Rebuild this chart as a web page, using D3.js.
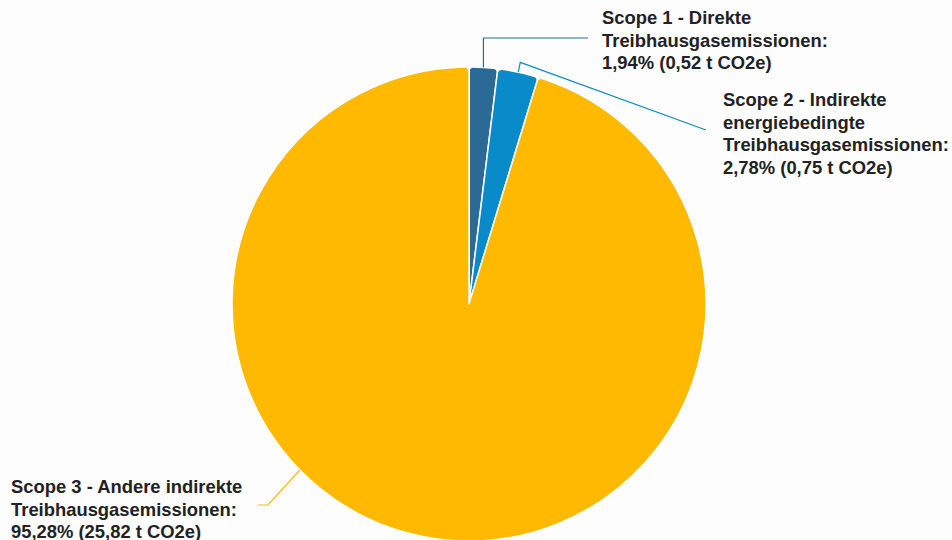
<!DOCTYPE html>
<html>
<head>
<meta charset="utf-8">
<script src="https://cdn.jsdelivr.net/npm/d3@7"></script>
<style>
  html, body { margin: 0; padding: 0; background: #fdfdfd; }
  svg { display: block; }
  text { font-family: "Liberation Sans", Arial, sans-serif; font-weight: bold; font-size: 18.4px; fill: #222; }
</style>
</head>
<body>
<div id="chart"></div>
<script>
var categories = ['Scope 1', 'Scope 2', 'Scope 3'];
var shares = [1.94, 2.78, 95.28];
var tonnes = [0.52, 0.75, 25.82];
var labelLines = [
  ['Scope 1 - Direkte', 'Treibhausgasemissionen:', '1,94% (0,52 t CO2e)'],
  ['Scope 2 - Indirekte', 'energiebedingte', 'Treibhausgasemissionen:', '2,78% (0,75 t CO2e)'],
  ['Scope 3 - Andere indirekte', 'Treibhausgasemissionen:', '95,28% (25,82 t CO2e)']
];
var colors = ['#2b6a94', '#0a8bc9', '#ffb900'];

var w = 952, h = 540;
var cx = 469, cy = 304, r = 237;

var svg = d3.select('#chart').append('svg')
  .attr('width', w)
  .attr('height', h);

var g = svg.append('g').attr('transform', 'translate(' + cx + ',' + cy + ')');

var pie = d3.pie().sort(null).value(function(d) { return d; });
var arcs = pie(shares);

var arc = d3.arc()
  .innerRadius(0)
  .outerRadius(r)
  .cornerRadius(4);

g.selectAll('path.slice')
  .data(arcs)
  .enter().append('path')
  .attr('class', 'slice')
  .attr('d', arc)
  .attr('fill', function(d, i) { return colors[i]; })
  .attr('stroke', '#fff')
  .attr('stroke-width', 1.5)
  .attr('stroke-linejoin', 'round');

// leader lines: anchor angle on the rim (fraction inside slice), then elbow, then end
var leaders = [
  { t: 0.5, out: 0,  pts: function(p) { return [p, [p[0], 38], [588, 38]]; } },
  { t: 0.5, out: 10, pts: function(p, q) { return [p, q, [706, 130]]; } },
  { t: 0.608, out: 0, pts: function(p) { return [p, [268, 505], [258, 505]]; } }
];

var line = d3.line();
arcs.forEach(function(d, i) {
  var L = leaders[i];
  var a = d.startAngle + (d.endAngle - d.startAngle) * L.t;
  var p = [cx + r * Math.sin(a), cy - r * Math.cos(a)];
  var q = [cx + (r + L.out) * Math.sin(a), cy - (r + L.out) * Math.cos(a)];
  svg.append('path')
    .attr('d', line(L.pts(p, q)))
    .attr('fill', 'none')
    .attr('stroke', colors[i])
    .attr('stroke-width', 1.2);
});

var labelPos = [[602, 24], [723, 106], [11, 493]];
labelLines.forEach(function(lines, i) {
  var t = svg.append('text')
    .attr('x', labelPos[i][0])
    .attr('y', labelPos[i][1]);
  lines.forEach(function(s, j) {
    t.append('tspan')
      .attr('x', labelPos[i][0])
      .attr('dy', j === 0 ? 0 : 22.7)
      .text(s);
  });
});
</script>
</body>
</html>
